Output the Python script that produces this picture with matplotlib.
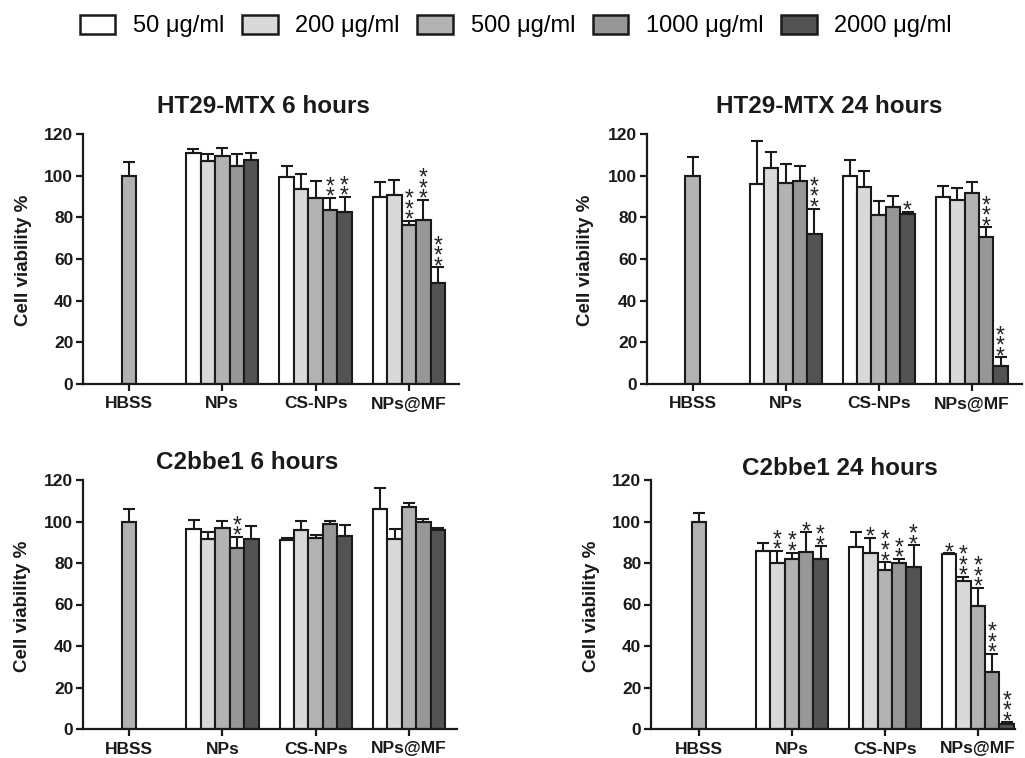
import numpy as np
import matplotlib
matplotlib.use('Agg')
import matplotlib.pyplot as plt
from matplotlib.patches import Patch

plt.rcParams['font.family'] = ['Liberation Sans', 'DejaVu Sans']

W, H = 1025, 758

groups = ['NPs', 'CS-NPs', 'NPs@MF']
conc_labels = ['50 μg/ml', '200 μg/ml', '500 μg/ml', '1000 μg/ml', '2000 μg/ml']
colors = ['#ffffff', '#d9d9d9', '#b2b2b2', '#979797', '#535353']
hbss_color = '#b2b2b2'

# HT29-MTX 6 hours
ht29_6h_hbss = [100.0, 6.7]
ht29_6h_mean = [[110.7, 107.0, 109.6, 104.6, 107.7],
                [99.5, 93.6, 89.1, 83.5, 82.7],
                [89.9, 90.9, 76.5, 78.9, 48.3]]
ht29_6h_err = [[1.9, 3.6, 3.8, 6.0, 3.2],
               [5.1, 7.2, 8.2, 5.8, 7.1],
               [7.2, 7.0, 1.9, 9.4, 7.7]]
ht29_6h_stars = [[0, 0, 0, 0, 0],
                 [0, 0, 0, 2, 2],
                 [0, 0, 3, 3, 3]]

# HT29-MTX 24 hours
ht29_24h_hbss = [100.0, 8.8]
ht29_24h_mean = [[95.8, 103.8, 96.3, 97.6, 71.8],
                 [100.0, 94.7, 81.0, 85.1, 81.4],
                 [89.8, 88.2, 91.7, 70.6, 8.8]]
ht29_24h_err = [[20.8, 7.7, 9.1, 7.0, 12.4],
                [7.4, 7.3, 7.0, 5.3, 1.3],
                [5.2, 5.9, 5.3, 4.6, 4.0]]
ht29_24h_stars = [[0, 0, 0, 0, 3],
                  [0, 0, 0, 0, 1],
                  [0, 0, 0, 3, 3]]

# C2bbe1 6 hours
c2_6h_hbss = [100.0, 6.1]
c2_6h_mean = [[96.6, 91.8, 96.7, 87.1, 91.6],
              [91.0, 96.1, 92.2, 99.0, 93.0],
              [106.2, 91.6, 107.2, 100.0, 95.9]]
c2_6h_err = [[4.2, 3.2, 3.7, 5.5, 6.3],
             [1.2, 4.0, 1.2, 1.4, 5.3],
             [10.0, 4.8, 1.7, 1.2, 1.1]]
c2_6h_stars = [[0, 0, 0, 2, 0],
               [0, 0, 0, 0, 0],
               [0, 0, 0, 0, 0]]

# C2bbe1 24 hours
c2_24h_hbss = [100.0, 4.0]
c2_24h_mean = [[86.0, 80.2, 81.8, 85.2, 81.8],
               [87.6, 85.0, 76.4, 80.2, 78.0],
               [84.4, 71.2, 59.4, 27.3, 2.6]]
c2_24h_err = [[3.7, 5.6, 3.2, 9.5, 6.3],
              [7.2, 7.1, 4.0, 1.8, 10.6],
              [0.3, 2.1, 8.6, 9.0, 0.6]]
c2_24h_stars = [[0, 2, 2, 1, 2],
                [0, 1, 3, 2, 2],
                [1, 3, 3, 3, 3]]

bar_w = 0.155
star_fs = 16.5


def add_axes_px(left, right, top, bottom):
    return fig.add_axes([left / W, 1 - bottom / H, (right - left) / W, (bottom - top) / H])


def draw_stars(ax, x, y, n):
    # one stacked text per bar, stars one above the other
    if n == 0:
        return
    ax.annotate('\n'.join(['*'] * n), (x, y), xytext=(0, 2.5 - 0.63 * star_fs),
                textcoords='offset points', ha='center', va='bottom', fontsize=star_fs,
                linespacing=0.31, color='#222222', annotation_clip=False)


def draw_panel(ax, hbss, means, errs, stars, xlim):
    ax.bar(0, hbss[0], bar_w, color=hbss_color, edgecolor='#1a1a1a', linewidth=1.5, zorder=2)
    ax.errorbar(0, hbss[0], yerr=[[0], [hbss[1]]], fmt='none', ecolor='#1a1a1a',
                elinewidth=1.5, capsize=4, capthick=1.5, zorder=3)
    for g in range(3):
        for i in range(5):
            x = g + 1 + (i - 2) * bar_w
            m = means[g][i]
            e = errs[g][i]
            ax.bar(x, m, bar_w, color=colors[i], edgecolor='#1a1a1a', linewidth=1.5, zorder=2)
            ax.errorbar(x, m, yerr=[[0], [e]], fmt='none', ecolor='#1a1a1a',
                        elinewidth=1.5, capsize=4, capthick=1.5, zorder=3)
            draw_stars(ax, x, m + e, stars[g][i])
    ax.set_xlim(*xlim)
    ax.set_ylim(0, 120)
    ax.set_yticks(np.arange(0, 121, 20))
    ax.set_xticks([0, 1, 2, 3])
    ax.set_xticklabels(['HBSS'] + groups)
    for s in ['top', 'right']:
        ax.spines[s].set_visible(False)
    for s in ['left', 'bottom']:
        ax.spines[s].set_linewidth(1.6)
        ax.spines[s].set_color('#1a1a1a')
    ax.tick_params(axis='both', direction='out', length=5, width=1.6, color='#1a1a1a',
                   labelsize=12.5, pad=2)
    ax.tick_params(axis='x', pad=4)
    for lab in ax.get_xticklabels() + ax.get_yticklabels():
        lab.set_fontweight('bold')
        lab.set_color('#1a1a1a')


fig = plt.figure(figsize=(W / 100, H / 100), dpi=100)

ax1 = add_axes_px(83, 459, 134, 384)
draw_panel(ax1, ht29_6h_hbss, ht29_6h_mean, ht29_6h_err, ht29_6h_stars, (-0.493, 3.537))
ax2 = add_axes_px(647, 1022, 134, 384)
draw_panel(ax2, ht29_24h_hbss, ht29_24h_mean, ht29_24h_err, ht29_24h_stars, (-0.49, 3.54))
ax3 = add_axes_px(83, 457, 480, 729)
draw_panel(ax3, c2_6h_hbss, c2_6h_mean, c2_6h_err, c2_6h_stars, (-0.495, 3.515))
ax4 = add_axes_px(651, 1015, 480, 729)
draw_panel(ax4, c2_24h_hbss, c2_24h_mean, c2_24h_err, c2_24h_stars, (-0.513, 3.40))

titles = [('HT29-MTX 6 hours', 263, 113), ('HT29-MTX 24 hours', 829, 113),
          ('C2bbe1 6 hours', 247, 469), ('C2bbe1 24 hours', 840, 475)]
for t, x, y in titles:
    fig.text(x / W, 1 - y / H, t, ha='center', va='baseline', fontsize=17.5,
             fontweight='bold', color='#1a1a1a')

for x, y in [(24, 260), (586, 260), (23, 606), (592, 606)]:
    fig.text(x / W, 1 - y / H, 'Cell viability %', rotation=90, ha='center', va='center',
             fontsize=13.5, fontweight='bold', color='#1a1a1a')

handles = [Patch(facecolor=c, edgecolor='#1a1a1a', linewidth=1.8) for c in colors]
fig.legend(handles, conc_labels, loc='center', bbox_to_anchor=(516 / W, 1 - 26 / H),
           ncol=5, frameon=False, fontsize=17, handlelength=1.5, handleheight=0.9,
           handletextpad=0.75, columnspacing=0.75, borderpad=0)

fig.savefig('out.png', dpi=100, facecolor='white')
